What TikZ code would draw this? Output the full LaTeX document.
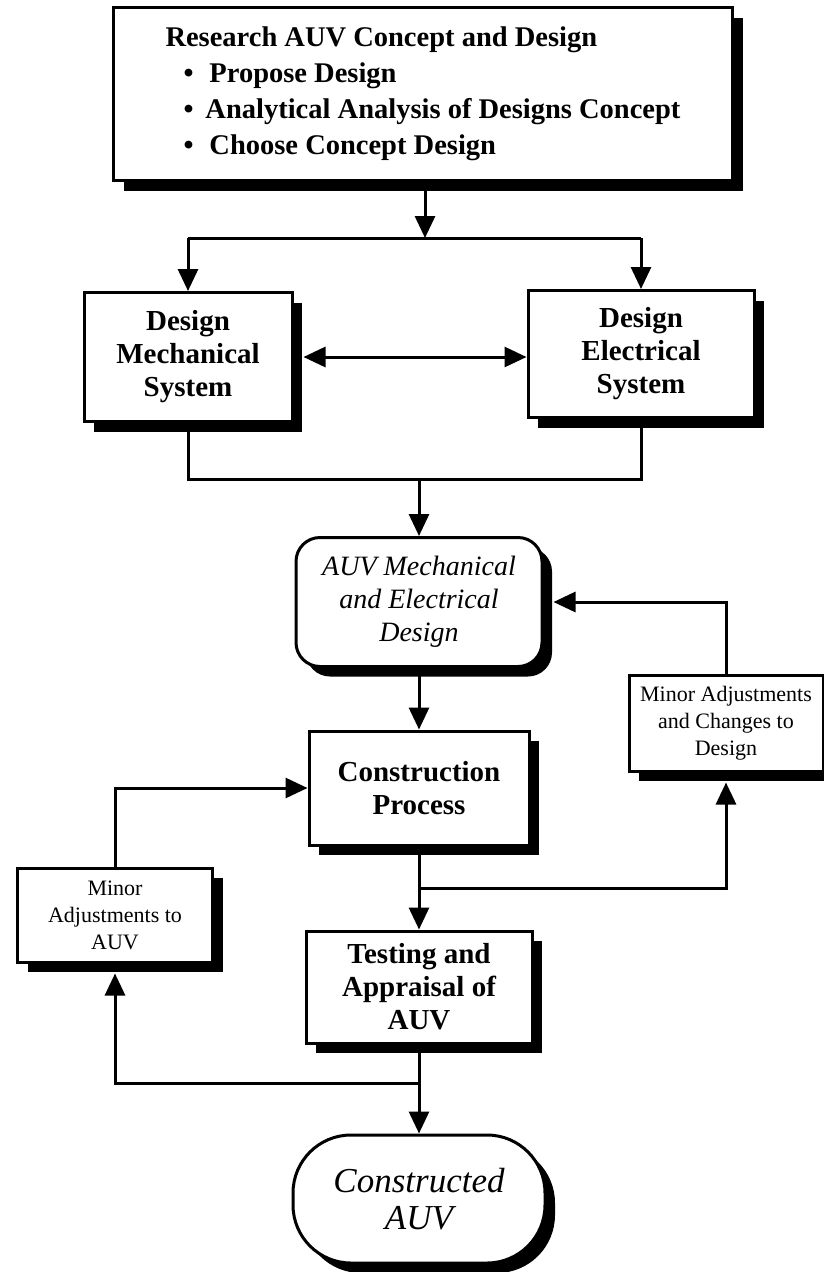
\documentclass[tikz,border=0pt]{standalone}
\usepackage{fontspec}
\setmainfont{Liberation Serif}
\usetikzlibrary{arrows.meta,shadows,positioning}

\begin{document}
\begin{tikzpicture}[x=1pt, y=-1pt,
    sysbox/.style={draw, rectangle, line width=3pt, fill=white, align=center, inner sep=0pt,
      font=\bfseries\fontsize{29}{33}\selectfont,
      drop shadow={shadow xshift=10pt, shadow yshift=-10pt, opacity=1, fill=black}},
    notebox/.style={sysbox, font=\fontsize{22}{27}\selectfont},
    designbox/.style={sysbox, rounded corners=24pt, font=\itshape\fontsize{28}{33}\selectfont},
    endbox/.style={sysbox, rounded corners=58pt, font=\itshape\fontsize{35}{37}\selectfont},
    link/.style={line width=3pt},
    flow/.style={link, -{Triangle[length=22pt, width=20pt]}},
    twoway/.style={link, {Triangle[length=22pt, width=20pt]}-{Triangle[length=22pt, width=20pt]}}]

  \useasboundingbox (0,0) rectangle (823,1272);

  \node[sysbox, minimum width=619pt, minimum height=173pt, align=left,
    font=\bfseries\fontsize{28.5}{36}\selectfont] (research) at (423,94)
    {Research AUV Concept and Design\\
     \hspace*{18pt}\textbullet\hspace{16pt}Propose Design\\
     \hspace*{18pt}\textbullet\hspace{12pt}Analytical Analysis of Designs Concept\\
     \hspace*{18pt}\textbullet\hspace{16pt}Choose Concept Design};

  \node[sysbox, minimum width=208pt, minimum height=129pt] (mech) at (188,357) {Design\\Mechanical\\System};
  \node[sysbox, minimum width=226pt, minimum height=127pt] (elec) at (641,354) {Design\\Electrical\\System};

  \node[designbox, minimum width=246pt, minimum height=129pt] (auv) at (419,602) {AUV Mechanical\\and Electrical\\Design};
  \node[sysbox, node distance=186pt, below of=auv, minimum width=220pt, minimum height=114pt] (build) {Construction\\Process};
  \node[sysbox, node distance=199pt, below of=build, minimum width=226pt, minimum height=112pt] (test) {Testing and\\Appraisal of\\AUV};
  \node[endbox, node distance=212pt, below of=test, minimum width=252pt, minimum height=128pt] (done) {Constructed\\AUV};

  \node[notebox, minimum width=194pt, minimum height=96pt] (fixdesign) at (726,723) {Minor Adjustments\\and Changes to\\Design};
  \node[notebox, minimum width=195pt, minimum height=94pt] (fixauv) at (115,915) {Minor\\Adjustments to\\AUV};

  \coordinate (fork) at (425,238);
  \coordinate (merge) at (419,479);
  \coordinate (split) at (419,888);
  \coordinate (loop) at (419,1083);

  \draw[flow] (research.south -| fork) -- (fork);
  \draw[link] (mech.north |- fork) -- (elec.north |- fork);
  \draw[flow] (mech.north |- fork) -- (mech.north);
  \draw[flow] (elec.north |- fork) -- (elec.north);
  \draw[twoway, shorten <=10pt] (mech.east) -- (mech.east -| elec.west);
  \draw[link] (mech.south) |- (merge) -| (elec.south);
  \draw[flow] (merge) -- (auv.north);
  \draw[flow] (auv.south) -- (build.north);
  \draw[flow] (build.south) -- (test.north);
  \draw[flow, shorten >=10pt] (split) -| (fixdesign.south);
  \draw[flow, shorten >=10pt] (fixdesign.north) |- (auv.east);
  \draw[flow] (test.south) -- (done.north);
  \draw[flow, shorten >=10pt] (loop) -| (fixauv.south);
  \draw[flow] (fixauv.north) |- (build.west);
\end{tikzpicture}
\end{document}
